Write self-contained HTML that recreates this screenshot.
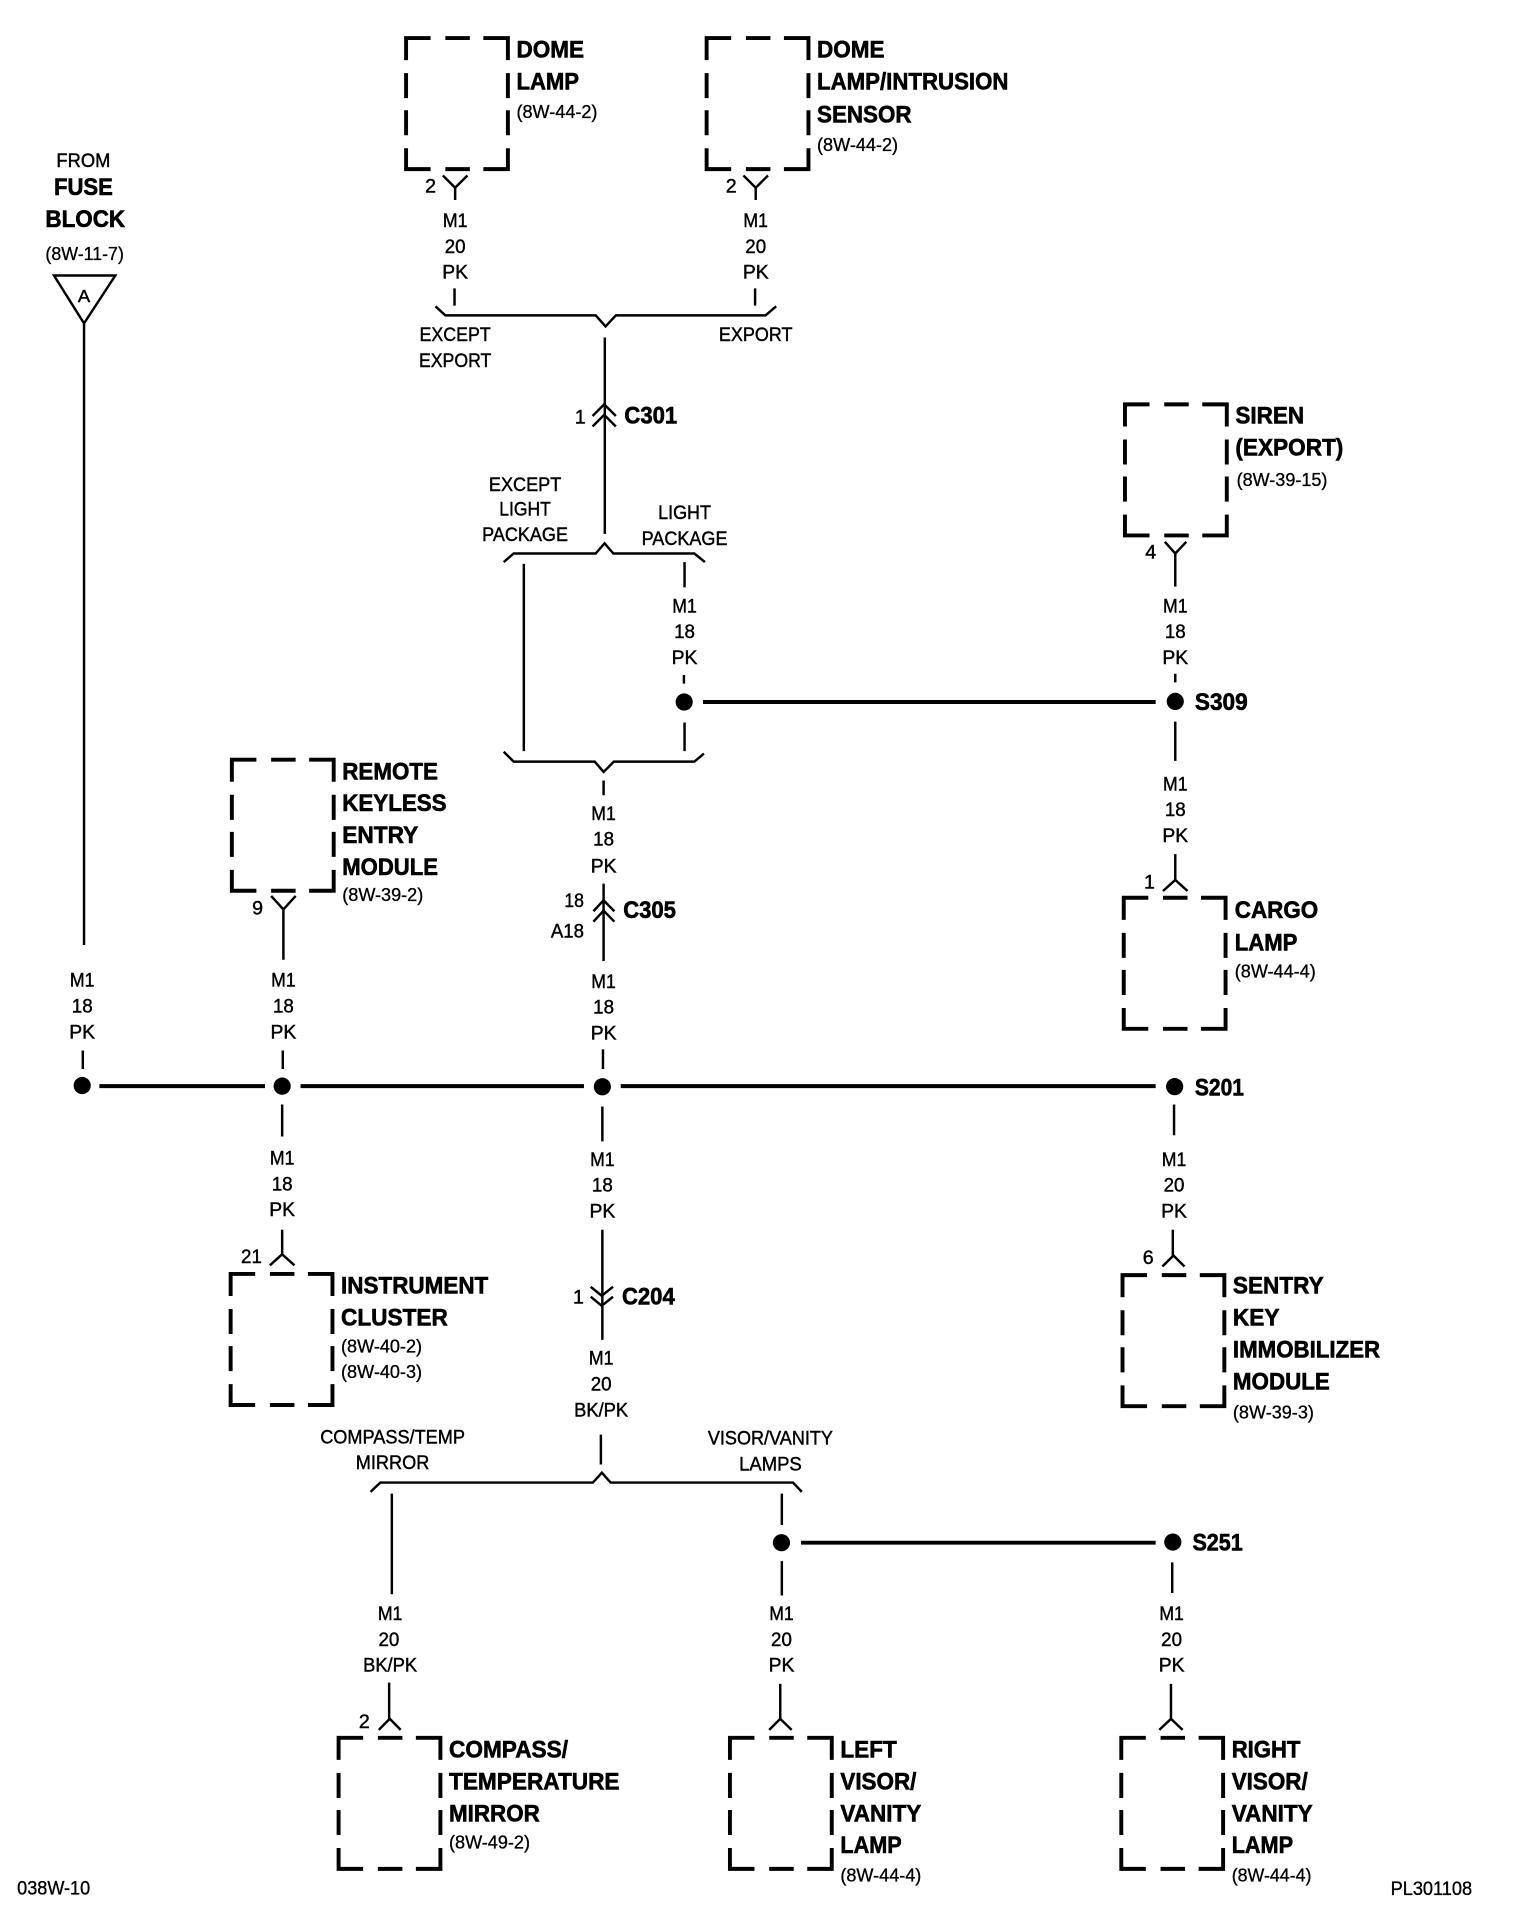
<!DOCTYPE html>
<html><head><meta charset="utf-8"><title>Wiring diagram</title>
<style>
html,body{margin:0;padding:0;background:#fff}
svg{display:block}
text{fill:#000;font-family:"Liberation Sans",sans-serif}
.s{font-size:16px;stroke:#000;stroke-width:.35px}
.m{font-size:16px;text-anchor:middle;stroke:#000;stroke-width:.35px}
.b{font-size:19.5px;font-weight:bold;stroke:#000;stroke-width:.5px}
.r{font-size:15px;stroke:#000;stroke-width:.25px}
.rm{font-size:15px;text-anchor:middle;stroke:#000;stroke-width:.25px}
.f{font-size:16px;stroke:#000;stroke-width:.3px}
.e{text-anchor:end}
</style></head><body>
<svg xmlns="http://www.w3.org/2000/svg" width="1520" height="1924" viewBox="0 0 1239 1567.7" preserveAspectRatio="none">
<defs>
<path id="box" fill="none" stroke="#000" stroke-width="3.2" d="M0 18V0H20M32 0H52M63 0H83V18M83 28.6V49M83 58.8V79.2M83 89.8V106.8H63M52 106.8H32M20 106.8H0V89.8M0 79.2V58.8M0 49V28.6"/>
</defs>
<rect width="1240" height="1570" fill="#fff"/>

<!-- boxes -->
<use href="#box" x="331" y="31"/>
<use href="#box" x="576" y="31"/>
<use href="#box" x="917" y="329.500"/>
<use href="#box" x="189" y="619"/>
<use href="#box" x="916" y="731.500"/>
<use href="#box" x="188" y="1038"/>
<use href="#box" x="915" y="1039"/>
<use href="#box" x="276" y="1416"/>
<use href="#box" x="595" y="1416"/>
<use href="#box" x="914" y="1416"/>

<!-- thick buses -->
<g fill="none" stroke="#000" stroke-width="3.2">
<path d="M81 885H216M245 885H476M506 885H942"/>
<path d="M573 572H942"/>
<path d="M653 1257H942"/>
</g>

<!-- wires -->
<g fill="none" stroke="#000" stroke-width="2">
<path d="M68.5 264V770"/>
<path d="M67.5 856V871"/>
<path d="M231 741V782M230.500 856V871M230 900V926M230 1002V1022"/>
<path d="M371 153V163M370.500 235V249M616 153V163M615.500 235V249"/>
<path d="M493 275V435"/>
<path d="M427 459.500V612M558 458V478.600M557.500 550V557M558 588.700V612"/>
<path d="M492 636V648M492 720V783M491.500 855V871M491 901.600V930M491 1002V1091.700"/>
<path d="M958 451V478M958 549V556M958 588V620M958 696V718M957 900V925M956 1002V1023"/>
<path d="M489.800 1169V1193.300M319.400 1217V1299M637.300 1217V1242.600M637.300 1272V1300M955.500 1273V1298"/>
<path d="M317.200 1371V1400.500M636 1372V1400.500M954.500 1372V1400.500"/>
<!-- Y connectors -->
<path d="M361 143L371 153L381 143M606 143L616 153L626 143M949.500 441.500L958 451L967 441.500M221 730L231 741L241 730"/>
<path d="M220 1031L230 1022L240 1031M948 726L958 717L968 726M947.500 1032L956.500 1023L965.500 1032"/>
<path d="M308.800 1409.500L317.700 1400.500L326.600 1409.500M627 1409.500L636 1400.500L645.300 1409.500M945 1409.500L954.500 1400.500L964 1409.500"/>
<!-- double chevrons -->
<path d="M483 339L492.500 329.500L502 339M483 347.500L492.500 338L502 347.500"/>
<path d="M483.700 742.500L492 733.600L500.800 742.500M483.700 751L492 742L500.800 751"/>
<path d="M481.500 1048.500L490.500 1055.800L499.700 1048.500M481.500 1056.600L490.500 1064L499.700 1056.600"/>
<!-- brackets -->
<path d="M355 249.600L363 257H485.600L493.600 266L502 257H624L632.700 249.600"/>
<path d="M410.600 458L418.700 451H485.500L492.800 442.700L500 451H566L574.600 458"/>
<path d="M410.600 612.500L418.700 620.600H484.800L492 629L500.400 620.600H566L573.800 614"/>
<path d="M302 1215.600L310 1208H483.300L490.600 1200L497.700 1208H646.400L653.600 1215.600"/>
<!-- triangle -->
<path d="M44 224.500H94L68.500 263.500Z"/>
</g>

<!-- dots -->
<g fill="#000">
<circle cx="67" cy="884.500" r="7"/><circle cx="230" cy="885" r="7"/><circle cx="491" cy="885.500" r="7"/><circle cx="957.500" cy="885.400" r="7"/>
<circle cx="557.700" cy="572" r="7"/><circle cx="958" cy="571.500" r="7"/>
<circle cx="637" cy="1257" r="7"/><circle cx="956" cy="1256.500" r="7"/>
</g>

<!-- left feed -->
<text class="m" x="68" y="136" textLength="44" lengthAdjust="spacingAndGlyphs">FROM</text>
<text class="b" x="44" y="159" textLength="48" lengthAdjust="spacingAndGlyphs">FUSE</text>
<text class="b" x="37" y="185" textLength="65" lengthAdjust="spacingAndGlyphs">BLOCK</text>
<text class="rm" x="69" y="212" textLength="64" lengthAdjust="spacingAndGlyphs">(8W-11-7)</text>
<text class="m" style="font-size:14px" x="68.500" y="246" textLength="10" lengthAdjust="spacingAndGlyphs">A</text>

<!-- box labels -->
<text class="b" x="421" y="47" textLength="55" lengthAdjust="spacingAndGlyphs">DOME</text>
<text class="b" x="421" y="73" textLength="51" lengthAdjust="spacingAndGlyphs">LAMP</text>
<text class="r" x="421" y="96" textLength="66" lengthAdjust="spacingAndGlyphs">(8W-44-2)</text>

<text class="b" x="666" y="47" textLength="55" lengthAdjust="spacingAndGlyphs">DOME</text>
<text class="b" x="666" y="73" textLength="156" lengthAdjust="spacingAndGlyphs">LAMP/INTRUSION</text>
<text class="b" x="666" y="100" textLength="77" lengthAdjust="spacingAndGlyphs">SENSOR</text>
<text class="r" x="666" y="123" textLength="66" lengthAdjust="spacingAndGlyphs">(8W-44-2)</text>

<text class="b" x="1007" y="345" textLength="56" lengthAdjust="spacingAndGlyphs">SIREN</text>
<text class="b" x="1007" y="371" textLength="88" lengthAdjust="spacingAndGlyphs">(EXPORT)</text>
<text class="r" x="1008" y="396" textLength="74" lengthAdjust="spacingAndGlyphs">(8W-39-15)</text>

<text class="b" x="279" y="635" textLength="78" lengthAdjust="spacingAndGlyphs">REMOTE</text>
<text class="b" x="279" y="661" textLength="85" lengthAdjust="spacingAndGlyphs">KEYLESS</text>
<text class="b" x="279" y="687" textLength="62" lengthAdjust="spacingAndGlyphs">ENTRY</text>
<text class="b" x="279" y="713" textLength="78" lengthAdjust="spacingAndGlyphs">MODULE</text>
<text class="r" x="279" y="734" textLength="66" lengthAdjust="spacingAndGlyphs">(8W-39-2)</text>

<text class="b" x="1006.500" y="748" textLength="68" lengthAdjust="spacingAndGlyphs">CARGO</text>
<text class="b" x="1006.500" y="774.500" textLength="51" lengthAdjust="spacingAndGlyphs">LAMP</text>
<text class="r" x="1006.500" y="796.500" textLength="66" lengthAdjust="spacingAndGlyphs">(8W-44-4)</text>

<text class="b" x="278" y="1054" textLength="120" lengthAdjust="spacingAndGlyphs">INSTRUMENT</text>
<text class="b" x="278" y="1080" textLength="87" lengthAdjust="spacingAndGlyphs">CLUSTER</text>
<text class="r" x="278" y="1102" textLength="66" lengthAdjust="spacingAndGlyphs">(8W-40-2)</text>
<text class="r" x="278" y="1123" textLength="66" lengthAdjust="spacingAndGlyphs">(8W-40-3)</text>

<text class="b" x="1005" y="1054" textLength="74" lengthAdjust="spacingAndGlyphs">SENTRY</text>
<text class="b" x="1005" y="1080" textLength="38" lengthAdjust="spacingAndGlyphs">KEY</text>
<text class="b" x="1005" y="1106" textLength="120" lengthAdjust="spacingAndGlyphs">IMMOBILIZER</text>
<text class="b" x="1005" y="1132" textLength="79" lengthAdjust="spacingAndGlyphs">MODULE</text>
<text class="r" x="1005" y="1156" textLength="66" lengthAdjust="spacingAndGlyphs">(8W-39-3)</text>

<text class="b" x="366" y="1432" textLength="97" lengthAdjust="spacingAndGlyphs">COMPASS/</text>
<text class="b" x="366" y="1458" textLength="139" lengthAdjust="spacingAndGlyphs">TEMPERATURE</text>
<text class="b" x="366" y="1484" textLength="74" lengthAdjust="spacingAndGlyphs">MIRROR</text>
<text class="r" x="366" y="1506" textLength="66" lengthAdjust="spacingAndGlyphs">(8W-49-2)</text>

<text class="b" x="685" y="1432" textLength="46" lengthAdjust="spacingAndGlyphs">LEFT</text>
<text class="b" x="685" y="1458" textLength="62" lengthAdjust="spacingAndGlyphs">VISOR/</text>
<text class="b" x="685" y="1484" textLength="66" lengthAdjust="spacingAndGlyphs">VANITY</text>
<text class="b" x="685" y="1510" textLength="50" lengthAdjust="spacingAndGlyphs">LAMP</text>
<text class="r" x="685" y="1533" textLength="66" lengthAdjust="spacingAndGlyphs">(8W-44-4)</text>

<text class="b" x="1004" y="1432" textLength="56" lengthAdjust="spacingAndGlyphs">RIGHT</text>
<text class="b" x="1004" y="1458" textLength="62" lengthAdjust="spacingAndGlyphs">VISOR/</text>
<text class="b" x="1004" y="1484" textLength="66" lengthAdjust="spacingAndGlyphs">VANITY</text>
<text class="b" x="1004" y="1510" textLength="50" lengthAdjust="spacingAndGlyphs">LAMP</text>
<text class="r" x="1004" y="1533" textLength="65" lengthAdjust="spacingAndGlyphs">(8W-44-4)</text>

<!-- connector / splice names -->
<text class="b" x="509" y="345" textLength="43" lengthAdjust="spacingAndGlyphs">C301</text>
<text class="b" x="508" y="748" textLength="43" lengthAdjust="spacingAndGlyphs">C305</text>
<text class="b" x="507" y="1063" textLength="43" lengthAdjust="spacingAndGlyphs">C204</text>
<text class="b" x="974" y="578.500" textLength="43" lengthAdjust="spacingAndGlyphs">S309</text>
<text class="b" x="974" y="892.500" textLength="40" lengthAdjust="spacingAndGlyphs">S201</text>
<text class="b" x="972" y="1263.500" textLength="41" lengthAdjust="spacingAndGlyphs">S251</text>

<!-- pin numbers -->
<text class="m" x="351" y="157">2</text>
<text class="m" x="596" y="157">2</text>
<text class="m" x="473" y="345">1</text>
<text class="m" x="938" y="455">4</text>
<text class="m" x="210" y="745">9</text>
<text class="m" x="937" y="724">1</text>
<text class="m" x="205" y="1029" textLength="17" lengthAdjust="spacingAndGlyphs">21</text>
<text class="m" x="471.500" y="1062">1</text>
<text class="m" x="936" y="1030">6</text>
<text class="m" x="297" y="1408">2</text>
<text class="s e" x="476" y="739" textLength="16" lengthAdjust="spacingAndGlyphs">18</text>
<text class="s e" x="476" y="764" textLength="27" lengthAdjust="spacingAndGlyphs">A18</text>

<!-- branch labels -->
<text class="m" x="371" y="278" textLength="58" lengthAdjust="spacingAndGlyphs">EXCEPT</text>
<text class="m" x="371" y="299" textLength="59" lengthAdjust="spacingAndGlyphs">EXPORT</text>
<text class="m" x="616" y="278" textLength="60" lengthAdjust="spacingAndGlyphs">EXPORT</text>
<text class="m" x="428" y="400" textLength="59" lengthAdjust="spacingAndGlyphs">EXCEPT</text>
<text class="m" x="428" y="420" textLength="42" lengthAdjust="spacingAndGlyphs">LIGHT</text>
<text class="m" x="428" y="441" textLength="70" lengthAdjust="spacingAndGlyphs">PACKAGE</text>
<text class="m" x="558" y="423" textLength="43" lengthAdjust="spacingAndGlyphs">LIGHT</text>
<text class="m" x="558" y="444" textLength="70" lengthAdjust="spacingAndGlyphs">PACKAGE</text>
<text class="m" x="320" y="1176" textLength="118" lengthAdjust="spacingAndGlyphs">COMPASS/TEMP</text>
<text class="m" x="320" y="1197" textLength="60" lengthAdjust="spacingAndGlyphs">MIRROR</text>
<text class="m" x="628" y="1177" textLength="102" lengthAdjust="spacingAndGlyphs">VISOR/VANITY</text>
<text class="m" x="628" y="1198" textLength="51" lengthAdjust="spacingAndGlyphs">LAMPS</text>

<!-- wire labels -->
<text class="m" x="371" y="185" textLength="20" lengthAdjust="spacingAndGlyphs">M1</text><text class="m" x="371" y="206" textLength="17" lengthAdjust="spacingAndGlyphs">20</text><text class="m" x="371" y="227" textLength="21" lengthAdjust="spacingAndGlyphs">PK</text>
<text class="m" x="616" y="185" textLength="20" lengthAdjust="spacingAndGlyphs">M1</text><text class="m" x="616" y="206" textLength="17" lengthAdjust="spacingAndGlyphs">20</text><text class="m" x="616" y="227" textLength="21" lengthAdjust="spacingAndGlyphs">PK</text>
<text class="m" x="558" y="499" textLength="20" lengthAdjust="spacingAndGlyphs">M1</text><text class="m" x="558" y="520" textLength="17" lengthAdjust="spacingAndGlyphs">18</text><text class="m" x="558" y="541" textLength="21" lengthAdjust="spacingAndGlyphs">PK</text>
<text class="m" x="958" y="499" textLength="20" lengthAdjust="spacingAndGlyphs">M1</text><text class="m" x="958" y="520" textLength="17" lengthAdjust="spacingAndGlyphs">18</text><text class="m" x="958" y="541" textLength="21" lengthAdjust="spacingAndGlyphs">PK</text>
<text class="m" x="958" y="644" textLength="20" lengthAdjust="spacingAndGlyphs">M1</text><text class="m" x="958" y="665" textLength="17" lengthAdjust="spacingAndGlyphs">18</text><text class="m" x="958" y="686" textLength="21" lengthAdjust="spacingAndGlyphs">PK</text>
<text class="m" x="492" y="668" textLength="20" lengthAdjust="spacingAndGlyphs">M1</text><text class="m" x="492" y="689" textLength="17" lengthAdjust="spacingAndGlyphs">18</text><text class="m" x="492" y="711" textLength="21" lengthAdjust="spacingAndGlyphs">PK</text>
<text class="m" x="67" y="804" textLength="20" lengthAdjust="spacingAndGlyphs">M1</text><text class="m" x="67" y="825" textLength="17" lengthAdjust="spacingAndGlyphs">18</text><text class="m" x="67" y="846" textLength="21" lengthAdjust="spacingAndGlyphs">PK</text>
<text class="m" x="231" y="804" textLength="20" lengthAdjust="spacingAndGlyphs">M1</text><text class="m" x="231" y="825" textLength="17" lengthAdjust="spacingAndGlyphs">18</text><text class="m" x="231" y="846" textLength="21" lengthAdjust="spacingAndGlyphs">PK</text>
<text class="m" x="492" y="805" textLength="20" lengthAdjust="spacingAndGlyphs">M1</text><text class="m" x="492" y="826" textLength="17" lengthAdjust="spacingAndGlyphs">18</text><text class="m" x="492" y="847" textLength="21" lengthAdjust="spacingAndGlyphs">PK</text>
<text class="m" x="230" y="949" textLength="20" lengthAdjust="spacingAndGlyphs">M1</text><text class="m" x="230" y="970" textLength="17" lengthAdjust="spacingAndGlyphs">18</text><text class="m" x="230" y="991" textLength="21" lengthAdjust="spacingAndGlyphs">PK</text>
<text class="m" x="491" y="950" textLength="20" lengthAdjust="spacingAndGlyphs">M1</text><text class="m" x="491" y="971" textLength="17" lengthAdjust="spacingAndGlyphs">18</text><text class="m" x="491" y="992" textLength="21" lengthAdjust="spacingAndGlyphs">PK</text>
<text class="m" x="957" y="950" textLength="20" lengthAdjust="spacingAndGlyphs">M1</text><text class="m" x="957" y="971" textLength="17" lengthAdjust="spacingAndGlyphs">20</text><text class="m" x="957" y="992" textLength="21" lengthAdjust="spacingAndGlyphs">PK</text>
<text class="m" x="490" y="1112" textLength="20" lengthAdjust="spacingAndGlyphs">M1</text><text class="m" x="490" y="1133" textLength="17" lengthAdjust="spacingAndGlyphs">20</text><text class="m" x="490" y="1154" textLength="44" lengthAdjust="spacingAndGlyphs">BK/PK</text>
<text class="m" x="318" y="1320" textLength="20" lengthAdjust="spacingAndGlyphs">M1</text><text class="m" x="317" y="1341" textLength="17" lengthAdjust="spacingAndGlyphs">20</text><text class="m" x="318" y="1362" textLength="44" lengthAdjust="spacingAndGlyphs">BK/PK</text>
<text class="m" x="637" y="1320" textLength="20" lengthAdjust="spacingAndGlyphs">M1</text><text class="m" x="637" y="1341" textLength="17" lengthAdjust="spacingAndGlyphs">20</text><text class="m" x="637" y="1362" textLength="21" lengthAdjust="spacingAndGlyphs">PK</text>
<text class="m" x="955" y="1320" textLength="20" lengthAdjust="spacingAndGlyphs">M1</text><text class="m" x="955" y="1341" textLength="17" lengthAdjust="spacingAndGlyphs">20</text><text class="m" x="955" y="1362" textLength="21" lengthAdjust="spacingAndGlyphs">PK</text>

<!-- footer -->
<text class="f" x="14" y="1543.500" textLength="59.500" lengthAdjust="spacingAndGlyphs">038W-10</text>
<text class="f" x="1133.500" y="1544" textLength="66.500" lengthAdjust="spacingAndGlyphs">PL301108</text>
</svg>
</body></html>
